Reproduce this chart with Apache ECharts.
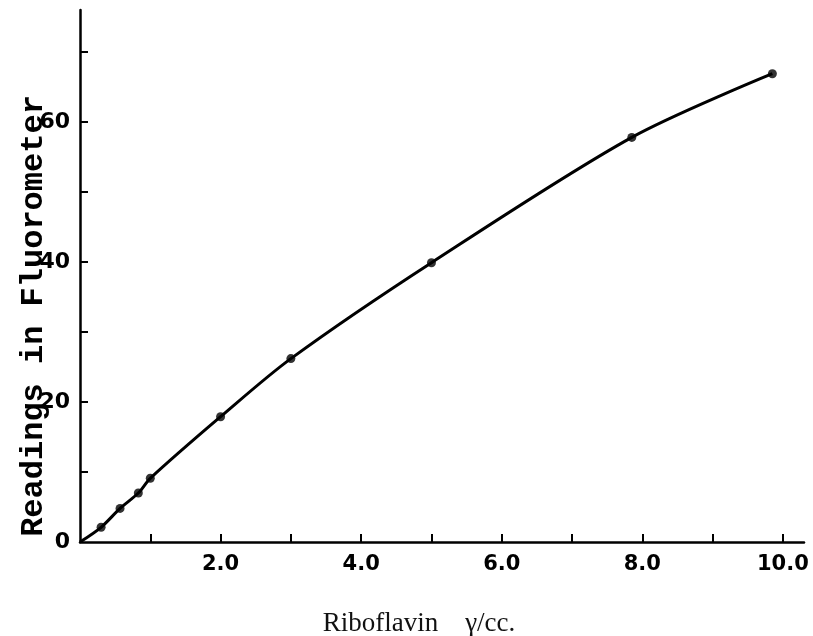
<!DOCTYPE html>
<html>
<head>
    <meta charset="UTF-8">
    <script src="https://cdn.jsdelivr.net/npm/echarts@6/dist/echarts.min.js"></script>
    <style>
        html, body { margin: 0; padding: 0; background: #fff; }
        #container { width: 813px; height: 636px; }
    </style>
</head>
<body>
<div id="container"></div>

<script type="text/javascript">
    // riboflavin (gamma/cc) and fluorometer readings
    var riboflavin = [0.3, 0.57, 0.83, 1.0, 2.0, 3.0, 5.0, 7.85, 9.85];
    var readings = [2.1, 4.8, 7.0, 9.1, 17.9, 26.2, 39.9, 57.8, 66.9];

    // fitted curve starts at the origin
    var curveX = [0, 0.3, 0.57, 0.83, 1.0, 2.0, 3.0, 5.0, 7.85, 9.85];
    var curveY = [0, 2.1, 4.8, 7.0, 9.1, 17.9, 26.2, 39.9, 57.8, 66.9];

    var xTickValues = [1, 2, 3, 4, 5, 6, 7, 8, 9, 10];
    var xLabelValues = [2, 4, 6, 8, 10];
    var yTickValues = [10, 20, 30, 40, 50, 60, 70];
    var yLabelValues = [0, 20, 40, 60];

    var points = riboflavin.map(function (x, i) { return [x, readings[i]]; });
    var curve = curveX.map(function (x, i) { return [x, curveY[i]]; });

    var dom = document.getElementById('container');
    var myChart = echarts.init(dom, null, { renderer: 'canvas' });

    var option = {
        animation: false,
        backgroundColor: '#fff',
        grid: { left: 80, right: 9, top: 10, bottom: 94, outerBoundsMode: 'none', containLabel: false },
        xAxis: {
            type: 'value',
            min: 0,
            max: 10.3,
            name: 'Riboflavin    \u03b3/cc.',
            nameLocation: 'middle',
            nameGap: 68,
            nameMoveOverlap: false,
            nameTextStyle: {
                fontFamily: 'Liberation Serif',
                fontSize: 27,
                color: '#111',
                padding: [0, 46, 0, 0]
            },
            splitLine: { show: false },
            axisLine: { lineStyle: { color: '#000', width: 2.5 } },
            axisTick: {
                inside: true,
                length: 8,
                customValues: xTickValues,
                lineStyle: { color: '#000', width: 2 }
            },
            axisLabel: {
                customValues: xLabelValues,
                margin: 12,
                fontFamily: 'DejaVu Sans',
                fontWeight: 'bold',
                fontSize: 21,
                color: '#000',
                formatter: function (v) { return v.toFixed(1); }
            }
        },
        yAxis: {
            type: 'value',
            min: 0,
            max: 76,
            name: 'Readings in Fluorometer',
            nameLocation: 'middle',
            nameGap: 30,
            nameRotate: 90,
            nameMoveOverlap: false,
            nameTextStyle: {
                fontFamily: 'Liberation Mono',
                fontWeight: 'bold',
                fontSize: 32,
                color: '#000',
                padding: [0, 80, 0, 0]
            },
            splitLine: { show: false },
            axisLine: { lineStyle: { color: '#000', width: 2.5 } },
            axisTick: {
                inside: true,
                length: 8,
                customValues: yTickValues,
                lineStyle: { color: '#000', width: 2 }
            },
            axisLabel: {
                customValues: yLabelValues,
                margin: 10,
                fontFamily: 'DejaVu Sans',
                fontWeight: 'bold',
                fontSize: 22,
                color: '#000'
            }
        },
        series: [
            {
                type: 'line',
                data: curve,
                smooth: 0.3,
                symbol: 'none',
                lineStyle: { color: '#000', width: 3 }
            },
            {
                type: 'scatter',
                data: points,
                symbolSize: 9,
                itemStyle: { color: '#000' }
            }
        ]
    };

    myChart.setOption(option);
    window.addEventListener('resize', myChart.resize);
</script>
</body>
</html>
